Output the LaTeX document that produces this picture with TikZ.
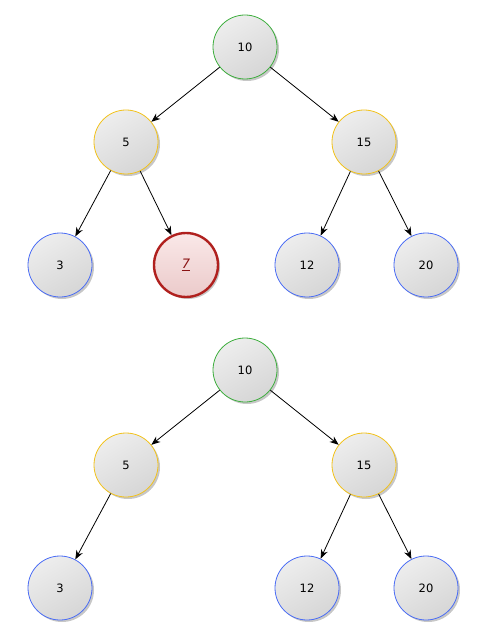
\documentclass[tikz,border=0pt]{standalone}
\usepackage{fontspec}
\setmainfont{DejaVu Sans}
\usetikzlibrary{shadows,arrows.meta}
\definecolor{cgreen}{HTML}{3DAE3D}
\definecolor{cyellow}{HTML}{F2C21B}
\definecolor{cblue}{HTML}{4A6CF5}
\definecolor{cred}{HTML}{B0201E}
\definecolor{credtext}{HTML}{8A1414}
\definecolor{cpinkA}{HTML}{FAE8E8}
\definecolor{cpinkB}{HTML}{EBCACA}
\tikzset{
  treenode/.style={circle, minimum size=64pt, inner sep=0pt, line width=0.8pt,
    shading=axis, top color=white!93!black, bottom color=white!84!black, shading angle=30,
    drop shadow={shadow xshift=2pt, shadow yshift=-2pt, opacity=0.22, fill=black, draw=none},
    font=\fontsize{11.5}{13}\selectfont},
  rootnode/.style={treenode, draw=cgreen},
  midnode/.style={treenode, draw=cyellow},
  leafnode/.style={treenode, draw=cblue},
  hotnode/.style={treenode, draw=cred, line width=2.4pt, top color=cpinkA, bottom color=cpinkB,
    font=\fontsize{13}{15}\selectfont\itshape\color{credtext}},
  edge/.style={-{Stealth[length=9pt,width=7pt]}, line width=0.8pt}
}
\begin{document}
\begin{tikzpicture}[x=1pt,y=-1pt]
\useasboundingbox (0,0) rectangle (486,636);
% top tree
\node[rootnode] (a10) at (245,47) {10};
\node[midnode] (a5) at (126,142) {5};
\node[midnode] (a15) at (364,142) {15};
\node[leafnode] (a3) at (60,265) {3};
\node[hotnode] (a7) at (186,265) {\underline{7}};
\node[leafnode] (a12) at (307,265) {12};
\node[leafnode] (a20) at (426,265) {20};
\draw[edge] (a10) -- (a5);
\draw[edge] (a10) -- (a15);
\draw[edge] (a5) -- (a3);
\draw[edge] (a5) -- (a7);
\draw[edge] (a15) -- (a12);
\draw[edge] (a15) -- (a20);
% bottom tree
\node[rootnode] (b10) at (245,370) {10};
\node[midnode] (b5) at (126,465) {5};
\node[midnode] (b15) at (364,465) {15};
\node[leafnode] (b3) at (60,588) {3};
\node[leafnode] (b12) at (307,588) {12};
\node[leafnode] (b20) at (426,588) {20};
\draw[edge] (b10) -- (b5);
\draw[edge] (b10) -- (b15);
\draw[edge] (b5) -- (b3);
\draw[edge] (b15) -- (b12);
\draw[edge] (b15) -- (b20);
\end{tikzpicture}
\end{document}
